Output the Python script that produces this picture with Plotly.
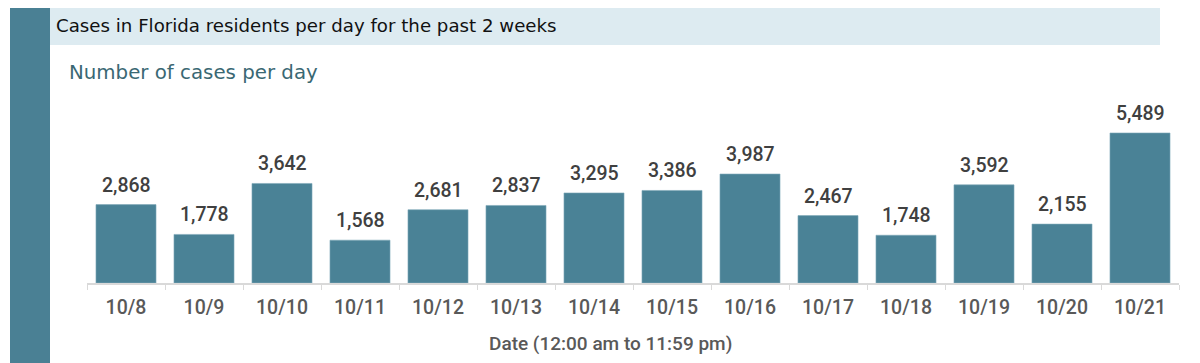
import plotly.graph_objects as go

dates = ["10/8", "10/9", "10/10", "10/11", "10/12", "10/13", "10/14",
         "10/15", "10/16", "10/17", "10/18", "10/19", "10/20", "10/21"]
cases = [2868, 1778, 3642, 1568, 2681, 2837, 3295, 3386, 3987, 2467,
         1748, 3592, 2155, 5489]

title_text = "Cases in Florida residents per day for the past 2 weeks"
subtitle_text = "Number of cases per day"
xaxis_title = "Date (12:00 am to 11:59 pm)"

# page has an 8px body margin; size the figure to fit the window exactly
OFF = 8
W, H = 1200 - OFF, 363 - OFF
# plot area in page pixels: x 87..1179, y 93..283
ML = 87 - OFF
MR = W - (1179 - OFF)
MT = 93 - OFF
MB = H - (283 - OFF)
PW = W - ML - MR
PH = H - MT - MB


def px_x(p):
    return (p - OFF - ML) / PW


def px_y(p):
    return (H - MB - (p - OFF)) / PH


LABEL_FONT = "Roboto"

fig = go.Figure(go.Bar(
    x=dates, y=cases,
    marker=dict(color="#4a8296", line=dict(color="#7fa9b8", width=0.6)),
    hoverinfo="x+y",
))

value_labels = [
    dict(x=d, y=v, xref="x", yref="y", text=f"{v:,}", showarrow=False,
         xanchor="center", yanchor="bottom", yshift=6,
         font=dict(family=LABEL_FONT, size=19.5, color="#404040", weight=500))
    for d, v in zip(dates, cases)
]

fig.update_layout(
    width=W, height=H,
    margin=dict(l=ML, r=MR, t=MT, b=MB),
    paper_bgcolor="white", plot_bgcolor="white",
    bargap=0.23,
    showlegend=False,
    xaxis=dict(
        showline=True, linecolor="#d9d9d9", linewidth=1.5,
        ticks="outside", tickson="boundaries", ticklen=5, tickcolor="#d9d9d9",
        ticklabelstandoff=6,
        tickfont=dict(family=LABEL_FONT, size=19.5, color="#595959", weight=500),
        fixedrange=True,
    ),
    yaxis=dict(visible=False, range=[0, 6952], fixedrange=True),
    shapes=[
        dict(type="rect", xref="paper", yref="paper",
             x0=px_x(10), x1=px_x(50), y0=px_y(370), y1=px_y(5),
             fillcolor="#4a8094", line=dict(width=0), layer="below"),
        dict(type="rect", xref="paper", yref="paper",
             x0=px_x(50), x1=px_x(1160), y0=px_y(45), y1=px_y(5),
             fillcolor="#ddebf1", line=dict(width=0), layer="below"),
    ],
    annotations=[
        dict(text=title_text, xref="paper", yref="paper",
             x=px_x(54), y=px_y(25), xanchor="left", yanchor="middle",
             showarrow=False,
             font=dict(family="DejaVu Sans", size=18.2, color="#111111")),
        dict(text=subtitle_text, xref="paper", yref="paper",
             x=px_x(67), y=px_y(72), xanchor="left", yanchor="middle",
             showarrow=False,
             font=dict(family="DejaVu Sans", size=19.8, color="#3a6873")),
        dict(text=xaxis_title, xref="paper", yref="paper",
             x=px_x(610), y=px_y(343), xanchor="center", yanchor="middle",
             showarrow=False,
             font=dict(family=LABEL_FONT, size=19, color="#595959", weight=500)),
    ] + value_labels,
)

fig.write_html("out.html")
